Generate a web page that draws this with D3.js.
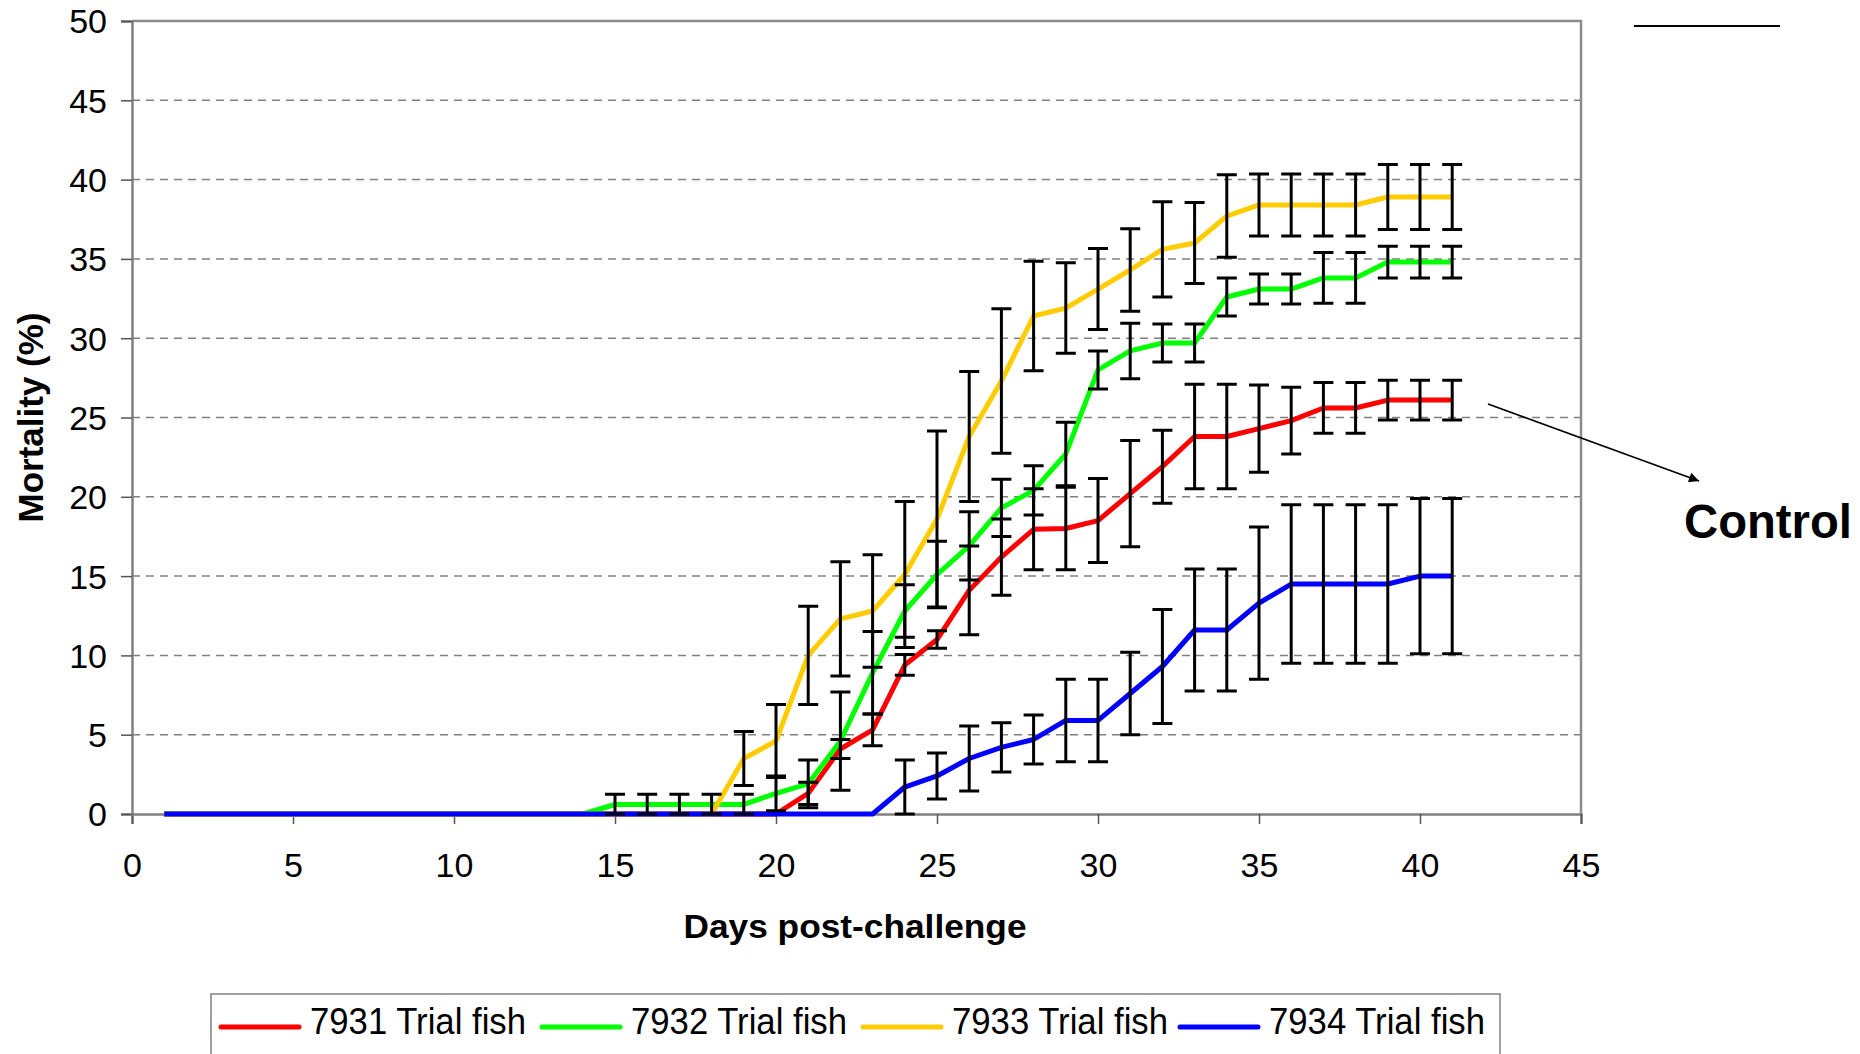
<!DOCTYPE html>
<html>
<head>
<meta charset="utf-8">
<script src="https://cdn.jsdelivr.net/npm/d3@7"></script>
<style>
  html, body { margin: 0; padding: 0; background: #fff; }
  svg { display: block; }
  text { font-family: "Liberation Sans", Arial, sans-serif; fill: #000; }
</style>
</head>
<body>
<svg id="chart" width="1860" height="1054"></svg>
<script>
// ---- Data ----
const days = d3.range(1, 42); // 1..41
const seriesNames = ["7931 Trial fish", "7932 Trial fish", "7933 Trial fish", "7934 Trial fish"];
const seriesColors = ["#FF0000", "#00FF00", "#FFCC00", "#0000FF"];

const mort7931 = [0,0,0,0,0,0,0,0,0,0, 0,0,0,0,0,0,0,0,0,0,
  1.3,4.1,5.3,9.4,11.0,14.1,16.2,17.95,18.0,18.5, 20.2,21.9,23.8,23.8,24.3,24.8,25.6,25.6,26.1,26.1, 26.1];
const err7931 = [0,0,0,0,0,0,0,0,0,0, 0,0,0,0,0,0,0,0,0,0,
  0.7,0.6,1.0,0.65,0.55,2.8,2.4,2.55,2.6,2.65, 3.35,2.3,3.3,3.3,2.75,2.1,1.6,1.6,1.25,1.25, 1.25];

const mort7932 = [0,0,0,0,0,0,0,0,0,0, 0,0,0,0,0.6,0.6,0.6,0.6,0.6,1.3,
  1.9,4.6,8.9,12.8,15.1,16.9,19.3,20.4,22.7,28.0, 29.2,29.7,29.7,32.6,33.1,33.1,33.8,33.8,34.8,34.8, 34.8];
const err7932 = [0,0,0,0,0,0,0,0,0,0, 0,0,0,0,0.65,0.65,0.65,0.65,0.65,1.1,
  1.5,3.1,2.6,1.65,2.1,2.15,1.8,1.55,2.0,1.2, 1.75,1.2,1.2,1.2,0.95,0.95,1.6,1.6,1.0,1.0, 1.0];

const mort7933 = [0,0,0,0,0,0,0,0,0,0, 0,0,0,0,0,0,0,0,3.5,4.6,
  10.0,12.3,12.8,15.1,18.6,23.8,27.3,31.4,31.9,33.1, 34.3,35.6,36.0,37.7,38.4,38.4,38.4,38.4,38.9,38.9, 38.9];
const err7933 = [0,0,0,0,0,0,0,0,0,0, 0,0,0,0,0,0,0,0,1.7,2.3,
  3.1,3.6,3.55,4.6,5.55,4.1,4.55,3.45,2.85,2.55, 2.6,3.0,2.55,2.6,1.95,1.95,1.95,1.95,2.05,2.05, 2.05];

const mort7934 = [0,0,0,0,0,0,0,0,0,0, 0,0,0,0,0,0,0,0,0,0,
  0,0,0,1.7,2.4,3.5,4.2,4.7,5.9,5.9, 7.6,9.3,11.6,11.6,13.3,14.5,14.5,14.5,14.5,15.0, 15.0];
const err7934 = [0,0,0,0,0,0,0,0,0,0, 0,0,0,0,0,0,0,0,0,0,
  0,0,0,1.7,1.45,2.05,1.55,1.55,2.6,2.6, 2.6,3.6,3.85,3.85,4.8,5.0,5.0,5.0,5.0,4.9, 4.9];

const xTicks = d3.range(0, 46, 5);
const yTicks = d3.range(0, 51, 5);
const xTitle = "Days post-challenge";
const yTitle = "Mortality (%)";
const annotation = "Control";

const seriesValues = [mort7931, mort7932, mort7933, mort7934];
const seriesErrors = [err7931, err7932, err7933, err7934];

// ---- Layout ----
const svg = d3.select("#chart");
const L = 132, R = 1581, T = 21, B = 814;
const x = d3.scaleLinear().domain([0, 45]).range([L, R]);
const y = d3.scaleLinear().domain([0, 50]).range([B, T]);
const FONT = "\"Liberation Sans\", Arial, sans-serif";

// gridlines
svg.append("g").selectAll("line")
  .data(yTicks.filter(v => v > 0 && v < 50))
  .join("line")
  .attr("x1", L).attr("x2", R)
  .attr("y1", d => y(d)).attr("y2", d => y(d))
  .attr("stroke", "#808080").attr("stroke-width", 1.5)
  .attr("stroke-dasharray", "8,6");

// plot border (top, right)
svg.append("path")
  .attr("d", `M${L},${T}H${R}V${B}`)
  .attr("fill", "none").attr("stroke", "#8c8c8c").attr("stroke-width", 2.5);

// axes
const xAxis = svg.append("g").attr("transform", `translate(0,${B})`)
  .call(d3.axisBottom(x).tickValues(xTicks).tickSize(10).tickPadding(27).tickFormat(d3.format("d")));
const yAxis = svg.append("g").attr("transform", `translate(${L},0)`)
  .call(d3.axisLeft(y).tickValues(yTicks).tickSize(11).tickPadding(14).tickFormat(d3.format("d")));
[xAxis, yAxis].forEach(g => {
  g.select(".domain").attr("stroke", "#808080").attr("stroke-width", 2.5);
  g.selectAll(".tick line").attr("stroke", "#555").attr("stroke-width", 1.5);
  g.selectAll(".tick text").attr("font-family", FONT).attr("font-size", 34).attr("fill", "#000");
});
xAxis.selectAll(".tick text").attr("dy", "0.75em");
yAxis.selectAll(".tick text").attr("dy", "0.35em");

// series lines
const line = d3.line().x((d, i) => x(days[i])).y(d => y(d));
seriesValues.forEach((vals, s) => {
  svg.append("path").datum(vals)
    .attr("d", line)
    .attr("fill", "none")
    .attr("stroke", seriesColors[s])
    .attr("stroke-width", 5)
    .attr("stroke-linejoin", "round");
});

// error bars
const capW = 10;
seriesValues.forEach((vals, s) => {
  const errs = seriesErrors[s];
  const pts = vals.map((v, i) => ({ d: days[i], v, e: errs[i] })).filter(p => p.e > 0);
  const g = svg.append("g").attr("stroke", "#000").attr("stroke-width", 3).attr("fill", "none");
  g.selectAll("path").data(pts).join("path")
    .attr("d", p => {
      const cx = x(p.d), y1 = y(p.v + p.e), y0 = y(Math.max(0, p.v - p.e));
      return `M${cx},${y1}V${y0}M${cx - capW},${y1}H${cx + capW}M${cx - capW},${y0}H${cx + capW}`;
    });
});

// axis titles
svg.append("text")
  .attr("x", 855).attr("y", 938)
  .attr("text-anchor", "middle")
  .attr("font-family", FONT).attr("font-weight", "bold").attr("font-size", 34)
  .attr("textLength", 343).attr("lengthAdjust", "spacingAndGlyphs")
  .text(xTitle);
svg.append("text")
  .attr("transform", `translate(43,${(T + B) / 2}) rotate(-90)`)
  .attr("text-anchor", "middle")
  .attr("font-family", FONT).attr("font-weight", "bold").attr("font-size", 35)
  .attr("textLength", 210).attr("lengthAdjust", "spacingAndGlyphs")
  .text(yTitle);

// annotation: Control + arrow + short line
svg.append("defs").append("marker")
  .attr("id", "arrow").attr("viewBox", "0 0 10 10")
  .attr("refX", 10).attr("refY", 5)
  .attr("markerWidth", 14).attr("markerHeight", 10)
  .attr("markerUnits", "userSpaceOnUse")
  .attr("orient", "auto")
  .append("path").attr("d", "M0,0L10,5L0,10Z").attr("fill", "#000");
svg.append("line")
  .attr("x1", 1488).attr("y1", 404).attr("x2", 1699).attr("y2", 481)
  .attr("stroke", "#000").attr("stroke-width", 1.8)
  .attr("marker-end", "url(#arrow)");
svg.append("text")
  .attr("x", 1684).attr("y", 538)
  .attr("font-family", FONT).attr("font-weight", "bold").attr("font-size", 48)
  .attr("textLength", 168).attr("lengthAdjust", "spacingAndGlyphs")
  .text(annotation);
svg.append("line")
  .attr("x1", 1634).attr("x2", 1780).attr("y1", 26).attr("y2", 26)
  .attr("stroke", "#000").attr("stroke-width", 2);

// legend
svg.append("rect")
  .attr("x", 211).attr("y", 994).attr("width", 1289).attr("height", 80)
  .attr("fill", "#fff").attr("stroke", "#808080").attr("stroke-width", 1.5);
const legX = [221, 542, 863, 1180];
const leg = svg.append("g").selectAll("g").data(seriesNames).join("g")
  .attr("transform", (d, i) => `translate(${legX[i]},0)`);
leg.append("line")
  .attr("x1", 0).attr("x2", 78).attr("y1", 1027).attr("y2", 1027)
  .attr("stroke", (d, i) => seriesColors[i]).attr("stroke-width", 5)
  .attr("stroke-linecap", "round");
leg.append("text")
  .attr("x", 89).attr("y", 1034)
  .attr("font-family", FONT).attr("font-size", 36)
  .attr("textLength", 216).attr("lengthAdjust", "spacingAndGlyphs")
  .text(d => d);
</script>
</body>
</html>
